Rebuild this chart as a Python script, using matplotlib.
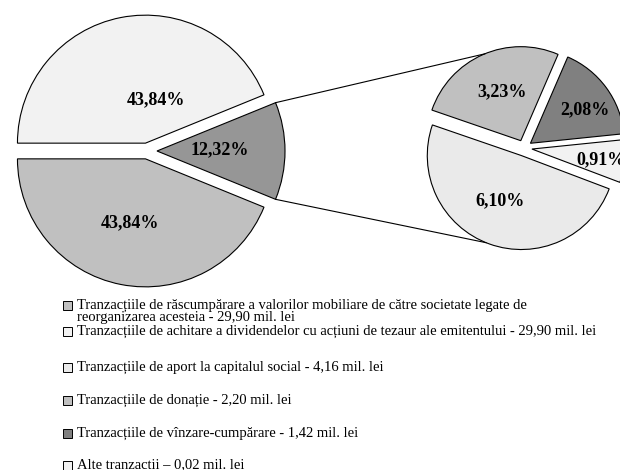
import numpy as np
import matplotlib
matplotlib.use("Agg")
import matplotlib.pyplot as plt
from matplotlib.patches import Rectangle

plt.rcParams['font.family'] = ['Liberation Serif', 'DejaVu Serif']

# main pie: "other" slice (split out), dividends, buy-back
main_pct = [12.32, 43.84, 43.84]
main_colors = ['#969696', '#f2f2f2', '#c0c0c0']

# second pie: breakdown of the 12,32% slice
second_pct = [6.10, 0.91, 2.08, 3.23]
second_colors = ['#eaeaea', '#f2f2f2', '#808080', '#c0c0c0']

legend_labels = [
    "Tranzacțiile de răscumpărare a valorilor mobiliare de către societate legate de\n"
    "reorganizarea acesteia - 29,90 mil. lei",
    "Tranzacțiile de achitare a dividendelor cu acțiuni de tezaur ale emitentului - 29,90 mil. lei",
    "Tranzacțiile de aport la capitalul social - 4,16 mil. lei",
    "Tranzacțiile de donație - 2,20 mil. lei",
    "Tranzacțiile de vînzare-cumpărare - 1,42 mil. lei",
    "Alte tranzactii – 0,02 mil. lei",
]
legend_colors = ['#c0c0c0', '#f2f2f2', '#eaeaea', '#c0c0c0', '#808080', '#f2f2f2']

W, H = 620, 470


def fmt(v):
    return f"{v:.2f}%".replace('.', ',')


fig = plt.figure(figsize=(W / 100, H / 100), dpi=100)
ax = fig.add_axes([0, 0, 1, 1])

edge = dict(edgecolor='black', linewidth=0.8)

# main pie, the small slice centred on the right (explode is in data units here)
r1 = 128
start1 = -main_pct[0] / 100 * 360 / 2
w1, _ = ax.pie(main_pct, colors=main_colors, radius=r1, center=(147, H - 151),
               startangle=start1, explode=[10, 8, 8],
               wedgeprops=edge, frame=True)

# second pie
r2 = 94
w2, _ = ax.pie(second_pct, colors=second_colors, radius=r2, center=(524, H - 148),
               startangle=161, explode=[8] * 4, wedgeprops=edge, frame=True)

# percentage labels (pixel positions, y from top)
main_lbl_pos = [(220, 150), (156, 100), (130, 223)]
second_lbl_pos = [(500, 201), (601, 160), (585, 110), (502, 92)]
for v, (x, y) in zip(main_pct, main_lbl_pos):
    ax.text(x, H - y, fmt(v), ha='center', va='center', fontsize=13, fontweight='bold')
for v, (x, y) in zip(second_pct, second_lbl_pos):
    ax.text(x, H - y, fmt(v), ha='center', va='center', fontsize=13, fontweight='bold')


def edge_point(w, ang):
    cx, cy = w.center
    a = np.deg2rad(ang)
    return cx + w.r * np.cos(a), cy + w.r * np.sin(a)


# connector lines between the two pies
small = w1[0]
p1 = edge_point(small, small.theta2)
q1 = edge_point(w2[3], 112.5)
p2 = edge_point(small, small.theta1)
q2 = edge_point(w2[0], 248)
ax.plot([p1[0], q1[0]], [p1[1], q1[1]], color='black', lw=0.8)
ax.plot([p2[0], q2[0]], [p2[1], q2[1]], color='black', lw=0.8)

# legend drawn by hand
leg_y = [305, 331, 367, 400, 433, 465]
line_step = 13
for lbl, col, ty in zip(legend_labels, legend_colors, leg_y):
    ax.add_patch(Rectangle((63, H - ty - 4.5), 9, 9, facecolor=col,
                           edgecolor='black', linewidth=0.7))
    for i, line in enumerate(lbl.split('\n')):
        ax.text(77, H - ty - i * line_step, line, ha='left', va='center', fontsize=10.5)

ax.set_xlim(0, W)
ax.set_ylim(0, H)
ax.set_aspect('equal')
ax.axis('off')

fig.savefig('out.png', dpi=100, facecolor='white')
